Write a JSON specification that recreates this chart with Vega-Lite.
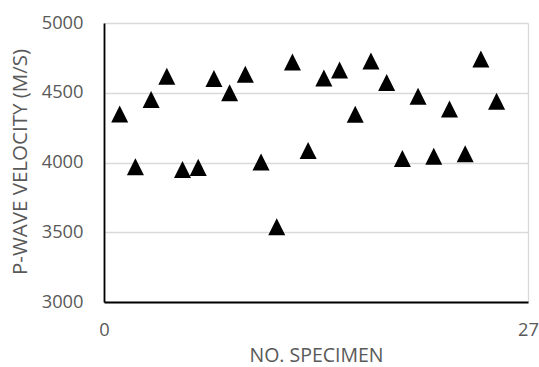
{
  "$schema": "https://vega.github.io/schema/vega-lite/v6.json",
  "autosize": "none",
  "width": 424,
  "height": 279,
  "padding": {"left": 104, "top": 23, "right": 11, "bottom": 65},
  "background": "white",
  "config": {
    "view": {"stroke": null},
    "font": "Open Sans"
  },
  "data": {
    "values": [
      {"specimen": 1, "velocity": 4348},
      {"specimen": 2, "velocity": 3969},
      {"specimen": 3, "velocity": 4451},
      {"specimen": 4, "velocity": 4618},
      {"specimen": 5, "velocity": 3950},
      {"specimen": 6, "velocity": 3965},
      {"specimen": 7, "velocity": 4602},
      {"specimen": 8, "velocity": 4500},
      {"specimen": 9, "velocity": 4633},
      {"specimen": 10, "velocity": 4004},
      {"specimen": 11, "velocity": 3539},
      {"specimen": 12, "velocity": 4721},
      {"specimen": 13, "velocity": 4086},
      {"specimen": 14, "velocity": 4606},
      {"specimen": 15, "velocity": 4663},
      {"specimen": 16, "velocity": 4346},
      {"specimen": 17, "velocity": 4727},
      {"specimen": 18, "velocity": 4573},
      {"specimen": 19, "velocity": 4029},
      {"specimen": 20, "velocity": 4475},
      {"specimen": 21, "velocity": 4045},
      {"specimen": 22, "velocity": 4384},
      {"specimen": 23, "velocity": 4062},
      {"specimen": 24, "velocity": 4742},
      {"specimen": 25, "velocity": 4439}
    ]
  },
  "mark": {
    "type": "point",
    "shape": "M0,-1L1,1L-1,1Z",
    "size": 290,
    "filled": true,
    "color": "black",
    "opacity": 1
  },
  "encoding": {
    "x": {
      "field": "specimen",
      "type": "quantitative",
      "scale": {"domain": [0, 27], "nice": false, "zero": false},
      "axis": {
        "values": [0, 27],
        "format": "d",
        "title": "NO. SPECIMEN",
        "grid": true,
        "gridColor": "#d9d9d9",
        "gridWidth": 1.3,
        "ticks": false,
        "domainColor": "black",
        "domainWidth": 1.8,
        "labelFontSize": 18.3,
        "labelColor": "#595959",
        "labelPadding": 19,
        "labelFlush": false,
        "titleFontSize": 19.5,
        "titleFontWeight": "normal",
        "titleColor": "#595959",
        "titleBaseline": "alphabetic",
        "titleY": 59
      }
    },
    "y": {
      "field": "velocity",
      "type": "quantitative",
      "scale": {"domain": [3000, 5000], "nice": false, "zero": false},
      "axis": {
        "values": [3000, 3500, 4000, 4500, 5000],
        "format": "d",
        "title": "P-WAVE VELOCITY (M/S)",
        "grid": true,
        "gridColor": "#d9d9d9",
        "gridWidth": 1.3,
        "ticks": false,
        "domainColor": "black",
        "domainWidth": 1.8,
        "labelFontSize": 18.3,
        "labelColor": "#595959",
        "labelPadding": 21,
        "labelFlush": false,
        "titleFontSize": 20.5,
        "titleFontWeight": "normal",
        "titleColor": "#595959",
        "titleBaseline": "alphabetic",
        "titleAngle": -90,
        "titleX": -77.6,
        "titleY": 138.5
      }
    }
  }
}
